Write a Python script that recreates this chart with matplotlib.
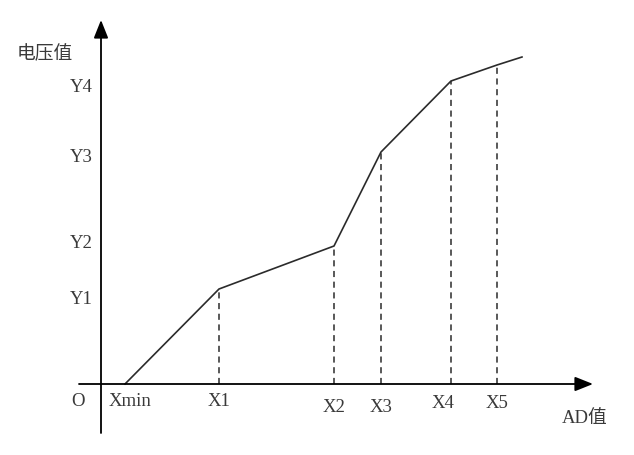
"""Piecewise-linear AD value -> voltage calibration curve, drawn like a textbook sketch."""
import matplotlib
matplotlib.use("Agg")
import matplotlib.pyplot as plt

# breakpoints of the curve (AD value, voltage); origin is where the axes cross
curve_x = [24, 118, 233, 280, 350, 396, 421]
curve_y = [0, 95, 138, 232, 303, 319, 327]

# dashed drop lines at X1..X5
drop_x = curve_x[1:6]
drop_y = curve_y[1:6]

x_labels = ["Xmin", "X1", "X2", "X3", "X4", "X5"]
x_label_pos = [29, 118, 233, 280, 342, 396]
x_label_off = [-18, -18, -23, -23, -20, -20]

y_labels = ["Y1", "Y2", "Y3", "Y4"]
y_label_pos = [85, 141, 227, 296]

LINE = "#2b2b2b"
TEXT = "#3a3a3a"
FONT = ["Liberation Serif", "Noto Sans CJK SC"]
FS = 13.5

fig = plt.figure(figsize=(6.34, 4.55), dpi=100)
ax = fig.add_axes([0, 0, 1, 1])
ax.set_xlim(-101, 533)
ax.set_ylim(-71, 384)
ax.axis("off")

# axes with arrow heads
arrow = dict(arrowstyle="-|>,head_length=0.55,head_width=0.22", color="black",
             lw=1.3, shrinkA=0, shrinkB=0, mutation_scale=20)
ax.annotate("", xy=(492, 0), xytext=(-22, 0), arrowprops=arrow)
ax.annotate("", xy=(0, 364), xytext=(0, -49), arrowprops=arrow)

# curve + dashed verticals
ax.plot(curve_x, curve_y, color=LINE, lw=1.2, solid_joinstyle="miter")
ax.vlines(drop_x, 0, drop_y, colors=LINE, lw=1.1, linestyles=(0, (4, 3)))

for lab, x, off in zip(x_labels, x_label_pos, x_label_off):
    ax.text(x, off, lab, ha="center", va="center", fontsize=FS,
            color=TEXT, family=FONT)
for lab, y in zip(y_labels, y_label_pos):
    ax.text(-8, y, lab, ha="right", va="center", fontsize=FS,
            color=TEXT, family=FONT)

ax.text(-23, -18, "O", ha="center", va="center", fontsize=FS, color=TEXT, family=FONT)
ax.text(-56, 330, "电压值", ha="center", va="center", fontsize=FS, color=TEXT, family=FONT)
ax.text(484, -34, "AD值", ha="center", va="center", fontsize=FS, color=TEXT, family=FONT)

fig.savefig("out.png", dpi=100)
